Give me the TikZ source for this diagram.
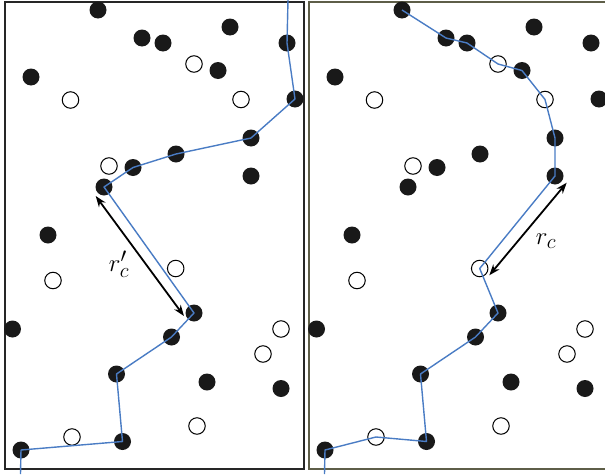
\documentclass[tikz,border=0pt]{standalone}
\usetikzlibrary{arrows.meta}
\definecolor{pathblue}{HTML}{4A7CC4}
\definecolor{frameolive}{HTML}{5E5E48}
\begin{document}
\begin{tikzpicture}[x=1pt,y=-1pt,
  fdot/.style={circle,fill=black!90,inner sep=0pt,minimum size=17pt},
  odot/.style={circle,draw=black,fill=white,line width=1pt,inner sep=0pt,minimum size=16.5pt},
  walk/.style={draw=pathblue,line width=1.4pt,line join=round},
  dimarrow/.style={line width=1.8pt,{Stealth[length=11pt,width=8pt]}-{Stealth[length=11pt,width=8pt]}},
  lbl/.style={font=\fontsize{29}{34}\selectfont,inner sep=0pt}]
\clip (0,0) rectangle (605,474);
\draw[line width=1.6pt,black!85] (5,2) rectangle (304,469);
\draw[line width=1.6pt,frameolive] (309,2) rectangle (640,469);
\foreach \n/\x/\y in {1/98/10,2/142/38,3/163/43,4/230/27,5/287/43,6/218/70.5,7/31/77,
  8/295/99,9/251/138,10/176/154,11/133/167.5,12/104/187,13/251/176,14/48/235,
  15/194/313,16/12.5/329,17/171.5/337,18/116.5/374,19/207/382,20/281/388.5,
  21/122.5/441.5,22/21/450} {
  \node[fdot] (LF\n) at (\x,\y) {};
  \node[fdot] (RF\n) at (\x+304,\y) {};
}
\foreach \n/\x/\y in {1/194/64,2/70.5/100,3/241/99.5,4/109/166,5/53/280.5,
  6/175.7/268.5,7/281/329,8/263/354,9/72/437,10/197/426} {
  \node[odot] (LO\n) at (\x,\y) {};
  \node[odot] (RO\n) at (\x+304,\y) {};
}
\coordinate (ltop) at (288,0);
\coordinate (lbot) at (20.5,474);
\coordinate (rbot) at (324.5,474);
\draw[walk] (ltop) -- (LF5.center) -- (LF8.center) -- (LF9.center) -- (LF10.center)
  -- (LF11.center) -- (LF12.center) -- (LF15.center) -- (LF17.center)
  -- (LF18.center) -- (LF21.center) -- (LF22.center) -- (lbot);
\draw[walk] (RF1.center) -- (RF2.center) -- (RF3.center) -- (RO1.center)
  -- (RF6.center) -- (RO3.center) -- (RF9.center) -- (RF13.center)
  -- (RO6.center) -- (RF15.center) -- (RF17.center) -- (RF18.center)
  -- (RF21.center) -- (RO9.center) -- (RF22.center) -- (rbot);
\coordinate (la) at (95.7,196);
\coordinate (lb) at (184,316);
\coordinate (ra) at (566.7,182.7);
\coordinate (rb) at (489.3,275.3);
\draw[dimarrow] (la) -- (lb);
\draw[dimarrow] (ra) -- (rb);
\node[lbl] (lrc) at (119,264) {$r'_c$};
\node[lbl] (rrc) at (546,241) {$r_c$};
\end{tikzpicture}
\end{document}
